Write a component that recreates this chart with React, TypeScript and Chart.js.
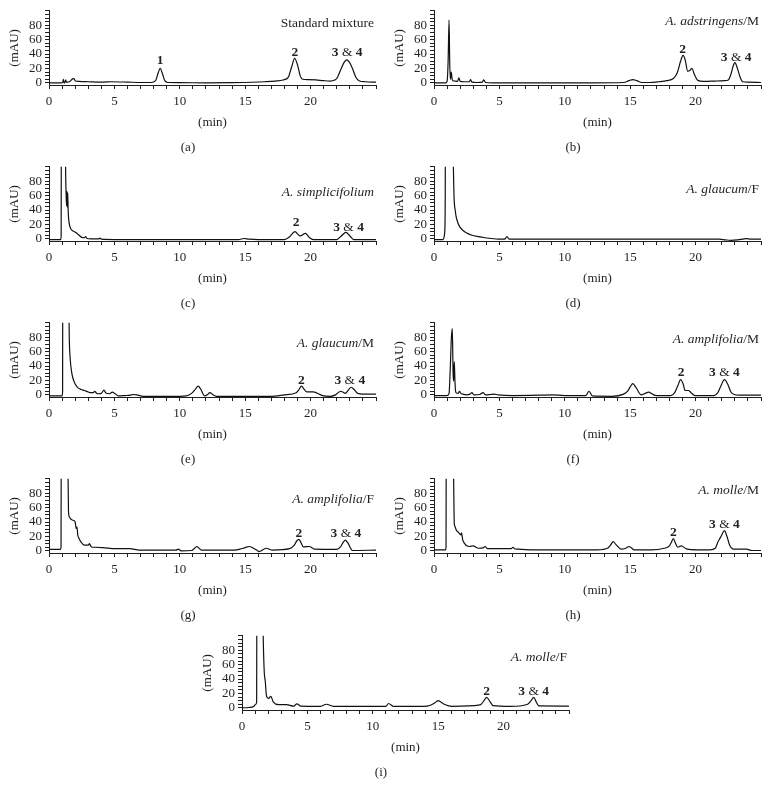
import React, { useEffect, useRef } from "react";
import { Chart, registerables } from "chart.js";

Chart.register(...registerables);

const FONT = '"Liberation Serif", "Times New Roman", serif';
const INK = "#231f20";

// ---- axis tick labels ----
const xMajorTicks = [0, 5, 10, 15, 20];
const yMajorTicks = [0, 20, 40, 60, 80];

// ---- (a) Standard mixture ----
const timeA = [0, 0.9, 1.05, 1.1, 1.15, 1.2, 1.28, 1.33, 1.4, 1.6, 1.8, 1.9, 2.0, 2.3, 3.0, 4.0, 4.8, 6.0, 7.0, 7.8, 8.15, 8.35, 8.5, 8.65, 8.85, 9.1, 10, 12, 14, 15.5, 16.5, 17.3, 17.9, 18.3, 18.55, 18.78, 19.0, 19.2, 19.4, 19.8, 20.4, 21.0, 21.5, 21.8, 22.0, 22.3, 22.55, 22.75, 22.95, 23.2, 23.45, 23.7, 24.2, 25];
const signalA = [0, 0, 0.5, 5, 0, 0, 4, 1, 1, 2, 5.5, 6, 3, 2, 1.5, 1, 1.5, 1, 0.5, 0.5, 3, 14, 20, 14, 3, 0.5, 0.3, 0, 0.3, 0.8, 1.5, 2.5, 4, 8, 22, 34, 25, 10, 5, 4.5, 4, 3, 2.5, 3.5, 6, 18, 28, 32, 29, 20, 8, 3, 1.5, 1];

// ---- (b) A. adstringens/M ----
const timeB = [0, 0.9, 1.0, 1.08, 1.15, 1.2, 1.25, 1.32, 1.38, 1.45, 1.6, 1.8, 1.9, 2.0, 2.3, 2.7, 2.8, 2.9, 3.3, 3.7, 3.8, 3.95, 4.5, 8, 12, 14.5, 14.9, 15.2, 15.5, 15.9, 16.5, 17.2, 17.8, 18.3, 18.6, 18.85, 19.04, 19.2, 19.4, 19.55, 19.72, 19.9, 20.2, 20.6, 21.5, 22.2, 22.5, 22.7, 22.85, 23.0, 23.2, 23.4, 23.6, 24, 25];
const signalB = [0, 0, 2, 30, 87, 30, 5, 15, 6, 3, 2.5, 2, 7, 2, 1.5, 1.5, 4.5, 1, 0.5, 1, 4, 0.5, 0, 0, 0, 0.5, 3, 4.5, 3, 0.5, 0.5, 1.5, 3, 6, 14, 30, 38, 32, 16, 17, 20, 12, 3, 2, 2.5, 3, 4, 12, 22, 28, 20, 8, 1.5, 1, 0.5];

// ---- (c) A. simplicifolium ----
const timeC = [0, 0.9, 0.93, 0.96, 1.1, 1.22, 1.27, 1.31, 1.34, 1.37, 1.4, 1.43, 1.46, 1.5, 1.6, 1.75, 1.95, 2.1, 2.3, 2.5, 2.7, 2.8, 2.9, 3.2, 3.8, 3.9, 4.0, 5, 8, 12, 14.5, 14.9, 15.3, 16, 18, 18.4, 18.8, 19.2, 19.6, 19.9, 20.2, 22.0, 22.35, 22.7, 23.0, 23.3, 25];
const signalC = [-1, -1, 5, 400, 600, 300, 100, 62, 46, 66, 44, 64, 42, 28, 17, 12, 10, 8, 5, 2, 1.5, 3, 0.5, 0, 0, 1, -0.5, -1, -1, -1, -1, 0.5, -0.5, -1, -1, 3, 10, 4, 7.5, 2, -1, -1, 4, 9, 4, -1, -1];

// ---- (d) A. glaucum/F ----
const timeD = [0, 0.7, 0.78, 0.82, 0.86, 0.9, 1.1, 1.4, 1.47, 1.53, 1.62, 1.7, 1.83, 1.96, 2.2, 2.5, 2.9, 3.4, 3.9, 4.4, 4.9, 5.4, 5.58, 5.75, 6.2, 10, 15, 20, 21.8, 22.3, 22.7, 23.2, 23.6, 23.9, 24.2, 25];
const signalD = [-1, -1, 3, 10, 60, 500, 900, 300, 120, 60, 40, 30, 22, 17, 12, 8, 5, 3, 1.5, 0.5, -0.5, -0.5, 3, -0.5, -0.5, -0.5, -0.5, -0.5, -0.5, -1.5, -2, -1.5, -0.5, 0.3, -0.5, -0.5];

// ---- (e) A. glaucum/M ----
const timeE = [0, 1.0, 1.04, 1.07, 1.2, 1.4, 1.5, 1.55, 1.63, 1.72, 1.83, 2.0, 2.2, 2.45, 2.7, 3.0, 3.2, 3.38, 3.5, 3.62, 3.75, 4.0, 4.2, 4.35, 4.6, 4.85, 5.05, 5.3, 5.8, 6.2, 6.45, 6.8, 7.2, 9, 10.0, 10.5, 10.9, 11.2, 11.4, 11.6, 11.9, 12.1, 12.3, 12.55, 12.8, 15, 16.9, 18.0, 18.9, 19.1, 19.3, 19.5, 19.7, 20.2, 20.9, 21.5, 21.9, 22.3, 22.5, 22.65, 22.9, 23.1, 23.35, 23.6, 24, 25];
const signalE = [-1.5, -1.5, 5, 500, 800, 400, 150, 80, 48, 33, 23, 15, 10, 7.5, 6, 4, 3, 3, 5, 2.5, 1.5, 2, 6.5, 2.5, 1.5, 3.7, 1.5, -1.5, -1, -0.5, 0.5, -0.5, -2, -2, -2, -1.5, 2, 8, 12, 8, -1.5, 0, 3, 0, -2, -2, -2, 0, 3, 7, 12, 8, 4, 4, -1, -2, 0, 5, 3.5, 2, 7, 10.5, 7, 2, 1, 1];

// ---- (f) A. amplifolia/M ----
const timeF = [0, 1.0, 1.15, 1.25, 1.33, 1.4, 1.46, 1.5, 1.55, 1.6, 1.65, 1.72, 1.85, 1.95, 2.05, 2.2, 2.5, 2.75, 2.9, 3.05, 3.5, 3.75, 3.95, 4.3, 4.6, 4.9, 6, 8, 9, 10, 11.6, 11.85, 12.1, 13.6, 14.5, 14.8, 15.0, 15.2, 15.45, 15.85, 16.15, 16.4, 16.7, 17.0, 18.1, 18.4, 18.65, 18.85, 19.05, 19.2, 19.45, 19.65, 19.95, 21.4, 21.7, 21.95, 22.2, 22.45, 22.7, 22.95, 23.3, 25];
const signalF = [-1, -1, 2, 40, 80, 92, 30, 19, 46, 20, 5, 2.5, 2, 5, 2, 1, 0, 1, 3, 0, 0.5, 3, 0, 0.5, 1, 0, -1, -0.5, 0, -1, -1, 5, -1.5, -2, 1, 5, 11, 15.5, 10, 0, 2, 3.7, 1, -1, -1, 3, 13, 21, 15, 6, 6, 3, -1, -1, 3, 13, 21, 15, 4, 0.5, -0.5, -0.5];

// ---- (g) A. amplifolia/F ----
const timeG = [0, 0.88, 0.92, 0.97, 1.1, 1.3, 1.42, 1.46, 1.49, 1.56, 1.63, 1.75, 1.9, 2.0, 2.08, 2.14, 2.2, 2.3, 2.45, 2.7, 3.0, 3.1, 3.18, 3.3, 3.5, 4.1, 5.1, 6.2, 6.9, 9.7, 9.9, 10.1, 10.9, 11.15, 11.3, 11.45, 11.65, 14.2, 14.6, 15.0, 15.3, 15.6, 15.85, 16.05, 16.6, 17.1, 18.4, 18.75, 18.95, 19.1, 19.25, 19.45, 19.9, 20.3, 22.0, 22.3, 22.5, 22.65, 22.85, 23.2, 25];
const signalG = [2, 2, 5, 500, 800, 400, 200, 100, 55, 47, 45, 43, 42, 40, 31, 33, 22, 17, 12, 8, 8, 10, 7, 5, 5, 4.5, 3, 3, 1, 1, 2.3, 0, 0.5, 4, 6, 4, 1, 1, 2.3, 4.5, 6, 4, 1.4, -1, 3.6, 1, 3, 8, 14, 16, 12, 5.5, 6, 2.3, 2, 6, 12, 15, 11, 0.5, 1];

// ---- (h) A. molle/M ----
const timeH = [0, 0.88, 0.92, 0.97, 1.1, 1.3, 1.45, 1.5, 1.55, 1.6, 1.7, 1.85, 1.95, 2.05, 2.1, 2.2, 2.35, 2.5, 2.7, 2.85, 3.0, 3.2, 3.4, 3.75, 3.9, 4.1, 5.9, 6.05, 6.15, 6.4, 7.4, 12.5, 13.3, 13.5, 13.7, 13.9, 14.3, 14.7, 14.9, 15.1, 15.3, 16.6, 17.6, 18.0, 18.15, 18.3, 18.45, 18.65, 18.9, 19.3, 20.2, 21.1, 21.5, 21.7, 21.85, 22.0, 22.2, 22.4, 22.6, 22.9, 23.9, 24.3, 25];
const signalH = [1.4, 1.4, 5, 500, 800, 400, 150, 100, 38, 34, 29, 26, 24, 22, 25, 15, 10, 7, 6, 6.5, 7, 5, 3.6, 4, 6, 3, 3, 5, 3, 2.3, 1.4, 1.4, 4, 8, 12.7, 9, 2.3, 4, 6, 4, 1.4, 1.4, 3.6, 7, 12, 17, 11, 5, 7, 2.7, 1.4, 1.4, 3.6, 12, 17, 22, 28, 20, 8, 2.3, 2.3, 0.5, 0.5];

// ---- (i) A. molle/F ----
const timeI = [0, 0.5, 0.9, 1.05, 1.12, 1.17, 1.3, 1.45, 1.58, 1.62, 1.7, 1.78, 1.86, 1.95, 2.04, 2.2, 2.4, 2.8, 3.4, 3.95, 4.2, 4.5, 6.0, 6.45, 7.0, 11.0, 11.2, 11.6, 13.9, 14.4, 14.75, 15.0, 15.2, 15.5, 16.05, 18.2, 18.5, 18.7, 18.95, 19.2, 20.5, 21.8, 22.1, 22.3, 22.5, 22.7, 25];
const signalI = [0, 0.5, 2, 5, 8, 500, 800, 400, 150, 100, 50, 37, 18, 14, 13, 16, 8, 4.6, 4.6, 2.3, 5.5, 2.3, 2, 5, 2, 2, 6, 2, 2, 3.6, 7, 10, 8, 4.6, 2, 4, 10, 14.6, 9, 3, 2, 4.6, 10, 14.6, 8, 2.7, 2.5];

// ---- peak annotations (retention time, label height in mAU) ----
const peakTextsStd = ["1", "2", "3 & 4"];
const peakTexts = ["2", "3 & 4"];
const peakTimesA = [8.5, 18.8, 22.8];
const peakLevelsA = [31, 42, 42];
const peakTimesB = [19.0, 23.1];
const peakLevelsB = [46, 35];
const peakTimesC = [18.9, 22.9];
const peakLevelsC = [22, 16];
const peakTimesE = [19.3, 23.0];
const peakLevelsE = [20, 20];
const peakTimesF = [18.9, 22.2];
const peakLevelsF = [31, 31];
const peakTimesG = [19.1, 22.7];
const peakLevelsG = [24, 24];
const peakTimesH = [18.3, 22.2];
const peakLevelsH = [26, 37];
const peakTimesI = [18.7, 22.3];
const peakLevelsI = [23, 23];

type Seg = { text: string; style: "normal" | "italic" | "bold" };

const sp = (genus: string, part: string): Seg[] =>
  part ? [{ text: genus, style: "italic" }, { text: part, style: "normal" }] : [{ text: genus, style: "italic" }];

const panels = [
  { caption: "(a)", left: 0, top: 0, time: timeA, signal: signalA, name: [{ text: "Standard mixture", style: "normal" }] as Seg[], nameLevel: 82, pTimes: peakTimesA, pLevels: peakLevelsA, pTexts: peakTextsStd },
  { caption: "(b)", left: 385, top: 0, time: timeB, signal: signalB, name: sp("A. adstringens", "/M"), nameLevel: 85, pTimes: peakTimesB, pLevels: peakLevelsB, pTexts: peakTexts },
  { caption: "(c)", left: 0, top: 156, time: timeC, signal: signalC, name: sp("A. simplicifolium", ""), nameLevel: 64, pTimes: peakTimesC, pLevels: peakLevelsC, pTexts: peakTexts },
  { caption: "(d)", left: 385, top: 156, time: timeD, signal: signalD, name: sp("A. glaucum", "/F"), nameLevel: 68, pTimes: [], pLevels: [], pTexts: [] },
  { caption: "(e)", left: 0, top: 312, time: timeE, signal: signalE, name: sp("A. glaucum", "/M"), nameLevel: 71, pTimes: peakTimesE, pLevels: peakLevelsE, pTexts: peakTexts },
  { caption: "(f)", left: 385, top: 312, time: timeF, signal: signalF, name: sp("A. amplifolia", "/M"), nameLevel: 77, pTimes: peakTimesF, pLevels: peakLevelsF, pTexts: peakTexts },
  { caption: "(g)", left: 0, top: 468, time: timeG, signal: signalG, name: sp("A. amplifolia", "/F"), nameLevel: 71, pTimes: peakTimesG, pLevels: peakLevelsG, pTexts: peakTexts },
  { caption: "(h)", left: 385, top: 468, time: timeH, signal: signalH, name: sp("A. molle", "/M"), nameLevel: 84, pTimes: peakTimesH, pLevels: peakLevelsH, pTexts: peakTexts },
  { caption: "(i)", left: 193, top: 625, time: timeI, signal: signalI, name: sp("A. molle", "/F"), nameLevel: 70, pTimes: peakTimesI, pLevels: peakLevelsI, pTexts: peakTexts },
];

const W = 385;
const H = 156;

function fontFor(style: string, size = 13.5) {
  if (style === "italic") return `italic ${size}px ${FONT}`;
  if (style === "bold") return `bold ${size}px ${FONT}`;
  return `${size}px ${FONT}`;
}

function drawRich(ctx: CanvasRenderingContext2D, segs: Seg[], x: number, y: number, align: string) {
  const widths = segs.map((s) => {
    ctx.font = fontFor(s.style);
    return ctx.measureText(s.text).width;
  });
  const total = widths.reduce((a, b) => a + b, 0);
  let cx = align === "right" ? x - total : align === "center" ? x - total / 2 : x;
  segs.forEach((s, i) => {
    ctx.font = fontFor(s.style);
    ctx.fillText(s.text, cx, y);
    cx += widths[i];
  });
}

function peakSegs(text: string): Seg[] {
  if (text.includes("&")) {
    const [l, r] = text.split("&");
    return [
      { text: l.trim(), style: "bold" },
      { text: " & ", style: "normal" },
      { text: r.trim(), style: "bold" },
    ];
  }
  return [{ text, style: "bold" }];
}

function Panel({ p }: { p: any }) {
  const ref = useRef<HTMLCanvasElement | null>(null);
  useEffect(() => {
    const canvas = ref.current;
    if (!canvas) return;
    const annotate = {
      id: "annotate",
      afterDatasetsDraw(chart: any) {
        const ctx = chart.ctx as CanvasRenderingContext2D;
        const xs = chart.scales.x;
        const ys = chart.scales.y;
        ctx.save();
        ctx.fillStyle = INK;
        ctx.textBaseline = "middle";
        ctx.textAlign = "left";
        drawRich(ctx, p.name, chart.chartArea.right - 2, ys.getPixelForValue(p.nameLevel), "right");
        p.pTimes.forEach((t: number, i: number) => {
          drawRich(ctx, peakSegs(p.pTexts[i]), xs.getPixelForValue(t), ys.getPixelForValue(p.pLevels[i]), "center");
        });
        ctx.restore();
      },
    };
    const chart = new Chart(canvas, {
      type: "line",
      data: {
        datasets: [
          {
            data: p.time.map((t: number, i: number) => ({ x: t, y: p.signal[i] })),
            borderColor: "#111",
            borderWidth: 1.2,
            pointRadius: 0,
            fill: false,
            cubicInterpolationMode: "monotone",
          },
        ],
      },
      options: {
        animation: false,
        responsive: false,
        events: [],
        layout: { padding: { left: 0, right: 9, top: 9, bottom: 0 } },
        plugins: {
          legend: { display: false },
          tooltip: { enabled: false },
          title: {
            display: true,
            position: "bottom",
            text: p.caption,
            color: INK,
            font: { family: FONT, size: 13, weight: "normal", lineHeight: 1.2 },
            padding: { top: 0, bottom: 0.5 },
          },
        },
        scales: {
          x: {
            type: "linear",
            min: 0,
            max: 25,
            afterFit: (s: any) => {
              s.height = 54.9;
            },
            grid: { drawOnChartArea: false, tickLength: 4, color: INK, tickColor: INK },
            border: { color: INK, width: 1 },
            ticks: {
              stepSize: 1,
              autoSkip: false,
              maxRotation: 0,
              padding: 4.5,
              color: INK,
              font: { family: FONT, size: 13, lineHeight: 1.2 },
              callback: (v: any) => (xMajorTicks.includes(Number(v)) ? String(v) : ""),
            },
            title: {
              display: true,
              text: "(min)",
              color: INK,
              font: { family: FONT, size: 13, lineHeight: 1.2 },
              padding: { top: 0, bottom: 9.5 },
            },
          },
          y: {
            type: "linear",
            min: -3,
            max: 100,
            afterFit: (s: any) => {
              s.width = 49;
            },
            grid: { drawOnChartArea: false, tickLength: 4, color: INK, tickColor: INK },
            border: { color: INK, width: 1 },
            ticks: {
              stepSize: 5,
              includeBounds: false,
              autoSkip: false,
              padding: 3,
              color: INK,
              font: { family: FONT, size: 13, lineHeight: 1.2 },
              callback: (v: any) => (yMajorTicks.includes(Number(v)) ? String(v) : ""),
            },
            title: {
              display: true,
              text: "(mAU)",
              color: INK,
              font: { family: FONT, size: 13, lineHeight: 1.2 },
              padding: { top: 7.2, bottom: 0 },
            },
          },
        },
      } as any,
      plugins: [annotate],
    });
    return () => chart.destroy();
  }, [p]);
  return (
    <canvas
      ref={ref}
      width={W}
      height={H}
      style={{ position: "absolute", left: p.left, top: p.top, width: W, height: H }}
    />
  );
}

export default function App() {
  return (
    <div style={{ position: "absolute", left: 0, top: 0, width: 770, height: 787, background: "#fff" }}>
      {panels.map((p) => (
        <Panel key={p.caption} p={p} />
      ))}
    </div>
  );
}
